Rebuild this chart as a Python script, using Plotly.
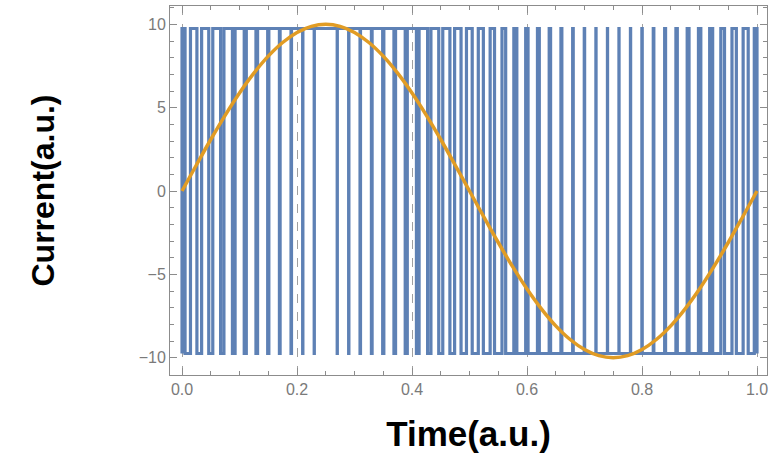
import plotly.graph_objects as go

# PWM current: low-pulse intervals (start, end)
low_start = [0.0053, 0.0259, 0.0465, 0.0671, 0.0877, 0.1082, 0.1286, 0.1490, 0.1694, 0.1896,
             0.2098, 0.2299, 0.2699, 0.2898, 0.3096, 0.3294, 0.3490, 0.3686, 0.3882, 0.4077,
             0.4271, 0.4465, 0.4659, 0.4853, 0.5047, 0.5241, 0.5435, 0.5629, 0.5823, 0.6018,
             0.6214, 0.6410, 0.6606, 0.6804, 0.7002, 0.7201, 0.7401, 0.7601, 0.7802, 0.8004,
             0.8206, 0.8410, 0.8614, 0.8818, 0.9023, 0.9229, 0.9435, 0.9641, 0.9847]
low_end = [0.0147, 0.0341, 0.0535, 0.0729, 0.0923, 0.1118, 0.1314, 0.1510, 0.1706, 0.1904,
           0.2102, 0.2301, 0.2701, 0.2902, 0.3104, 0.3306, 0.3510, 0.3714, 0.3918, 0.4123,
           0.4329, 0.4535, 0.4741, 0.4947, 0.5153, 0.5359, 0.5565, 0.5771, 0.5977, 0.6182,
           0.6386, 0.6590, 0.6794, 0.6996, 0.7198, 0.7399, 0.7599, 0.7799, 0.7998, 0.8196,
           0.8394, 0.8590, 0.8786, 0.8982, 0.9177, 0.9371, 0.9565, 0.9759, 0.9953]
level_high = 9.75
level_low = -9.75

# Reference sine (orange)
sine_t = [0.0, 0.025, 0.05, 0.075, 0.1, 0.125, 0.15, 0.175, 0.2, 0.225,
          0.25, 0.275, 0.3, 0.325, 0.35, 0.375, 0.4, 0.425, 0.45, 0.475,
          0.5, 0.525, 0.55, 0.575, 0.6, 0.625, 0.65, 0.675, 0.7, 0.725,
          0.75, 0.775, 0.8, 0.825, 0.85, 0.875, 0.9, 0.925, 0.95, 0.975, 1.0]
sine_v = [0.0, 1.56, 3.09, 4.54, 5.88, 7.07, 8.09, 8.91, 9.51, 9.88,
          10.0, 9.88, 9.51, 8.91, 8.09, 7.07, 5.88, 4.54, 3.09, 1.56,
          0.0, -1.56, -3.09, -4.54, -5.88, -7.07, -8.09, -8.91, -9.51, -9.88,
          -10.0, -9.88, -9.51, -8.91, -8.09, -7.07, -5.88, -4.54, -3.09, -1.56, 0.0]

x_ticks = [0.0, 0.2, 0.4, 0.6, 0.8, 1.0]
x_tick_text = ["0.0", "0.2", "0.4", "0.6", "0.8", "1.0"]
y_ticks = [-10, -5, 0, 5, 10]
y_tick_text = ["\u221210", "\u22125", "0", "5", "10"]

# Build the step waveform from the switching times
px = [0.0, 0.0]
py = [level_low, level_high]
for s, e in zip(low_start, low_end):
    px += [s, s, e, e]
    py += [level_high, level_low, level_low, level_high]
px += [1.0, 1.0]
py += [level_high, level_low]

fig = go.Figure()
fig.add_trace(go.Scatter(x=px, y=py, mode="lines",
                         line=dict(color="#5E81B5", width=3.2, simplify=False),
                         hoverinfo="skip", showlegend=False))
fig.add_trace(go.Scatter(x=sine_t, y=sine_v, mode="lines",
                         line=dict(color="#E19C24", width=3.5, shape="spline"),
                         showlegend=False))

axis_common = dict(showline=True, linecolor="#8c8c8c", linewidth=1, mirror="ticks",
                   ticks="inside", ticklen=7, tickcolor="#8c8c8c", zeroline=False,
                   tickfont=dict(family="Liberation Sans, Arial", size=16, color="#7a7a7a"))

fig.update_xaxes(range=[-0.0209, 1.0174], tickvals=x_ticks, ticktext=x_tick_text,
                 showgrid=True, gridcolor="#a0a0a0", griddash="dash", gridwidth=1,
                 minor=dict(dtick=0.05, ticks="inside", ticklen=4, tickcolor="#8c8c8c", showgrid=False),
                 title=dict(text="<b>Time(a.u.)</b>", standoff=24,
                            font=dict(family="Liberation Sans, Arial", size=35, color="black")),
                 **axis_common)
fig.update_yaxes(range=[-11.04, 11.1], tickvals=y_ticks, ticktext=y_tick_text,
                 showgrid=False,
                 minor=dict(dtick=1, ticks="inside", ticklen=4, tickcolor="#8c8c8c", showgrid=False),
                 title=dict(text="<b>Current(a.u.)</b>", standoff=74,
                            font=dict(family="Liberation Sans, Arial", size=32, color="black")),
                 **axis_common)

fig.update_layout(width=775, height=463, margin=dict(l=170, r=8, t=6, b=88),
                  plot_bgcolor="white", paper_bgcolor="white")

fig.write_html("out.html", config={"displayModeBar": False},
               post_script="document.body.style.margin='0';")
